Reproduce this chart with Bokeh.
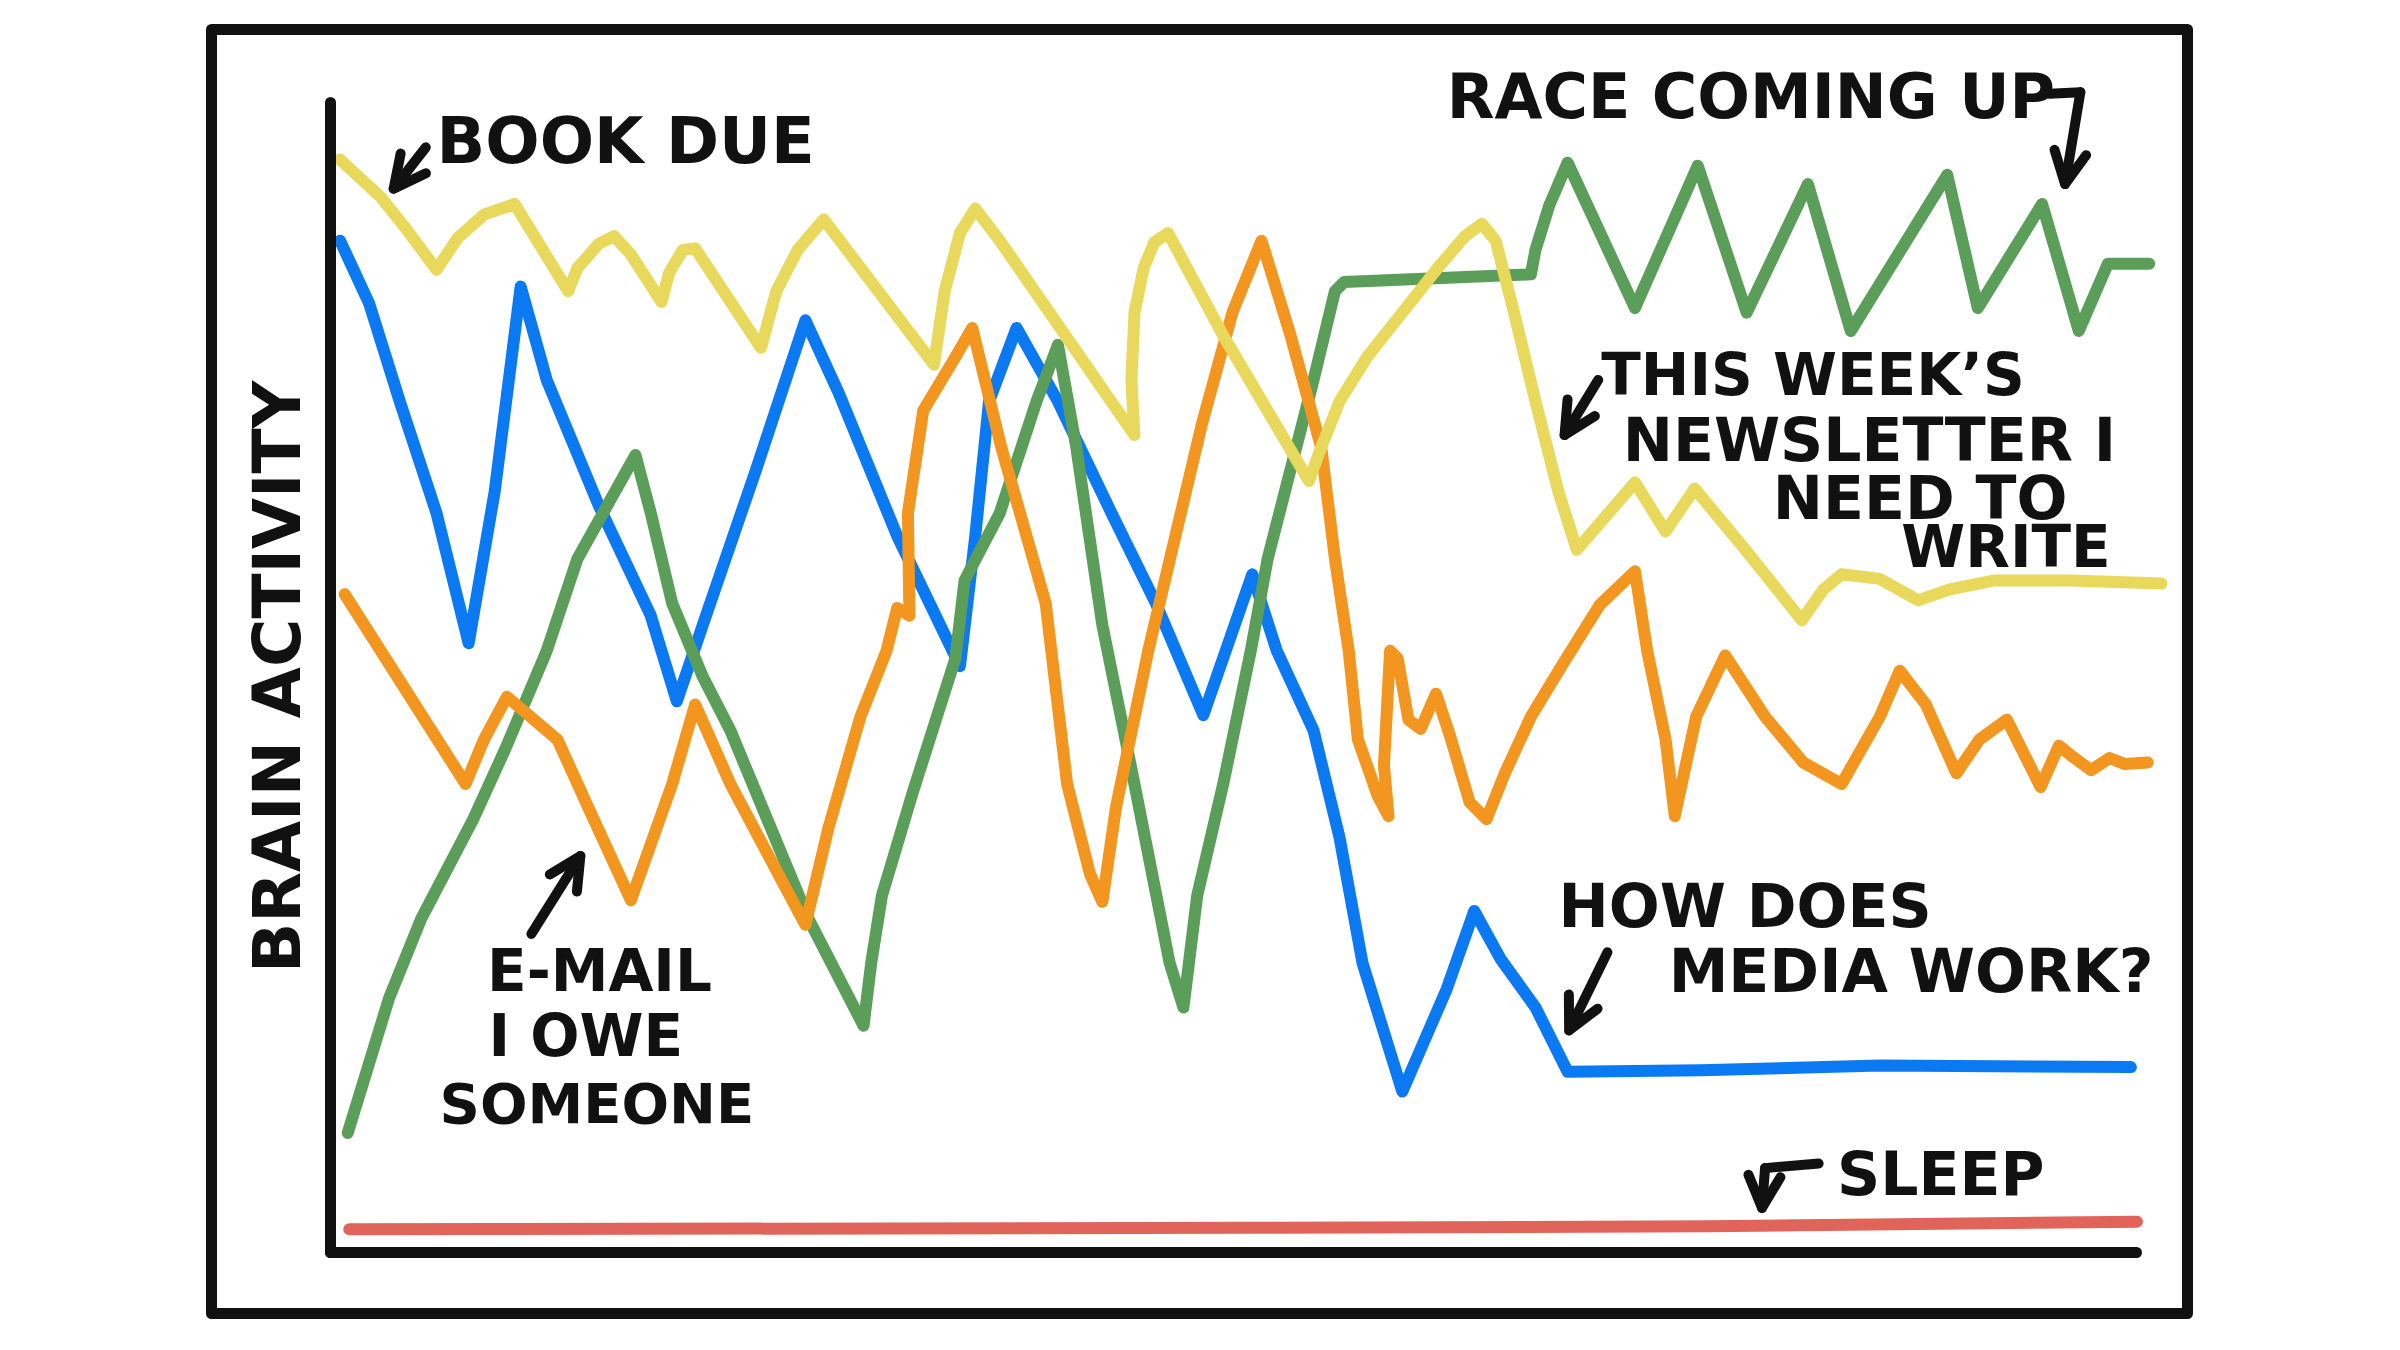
import math
from bokeh.plotting import figure
from bokeh.models import Range1d, LinearAxis, FixedTicker, Arrow, OpenHead, ColumnDataSource
from bokeh.core.properties import value
from bokeh.embed import file_html
from bokeh.resources import INLINE

# ---------------- data (time in arbitrary units, brain activity in arbitrary units) ----------------
# yellow: book due -> this week's newsletter
book_t = [0.6, 3.2, 4.9, 6.9, 8.3, 10.0, 12.0, 15.5, 16.1, 17.5, 18.5, 19.6, 21.6, 22.1, 23.0, 23.8,
          28.1, 29.1, 30.5, 32.2, 39.4, 40.1, 41.1, 42.1, 43.7, 52.5, 52.3, 52.5, 53.1, 53.8, 54.7,
          58.3, 63.9, 64.7, 65.9, 67.7, 70.0, 72.3, 74.1, 75.2, 76.1, 77.3, 78.7, 80.2, 81.4,
          85.2, 87.2, 89.1, 92.5, 96.1, 97.5, 98.7, 101.2, 103.7, 105.7, 108.7, 113.7, 119.6]
book_v = [71.4, 69.0, 66.9, 64.2, 66.3, 67.8, 68.5, 62.8, 64.3, 65.9, 66.4, 65.2, 62.1, 64.0, 65.5, 65.6,
          59.1, 62.8, 65.5, 67.5, 58.0, 62.8, 66.6, 68.2, 66.1, 53.4, 57.0, 61.4, 64.3, 66.0, 66.6,
          59.9, 50.4, 52.6, 55.6, 58.5, 61.4, 64.3, 66.4, 67.2, 66.1, 61.4, 55.6, 49.7, 45.9,
          50.3, 47.1, 49.9, 45.8, 41.3, 43.3, 44.3, 44.0, 42.6, 43.3, 43.9, 43.9, 43.7]

# blue: how does media work?
media_t = [0.6, 2.5, 4.5, 6.9, 9.0, 10.7, 12.4, 14.1, 17.5, 20.9, 22.6, 24.3, 27.8, 31.0, 33.2, 37.0,
           41.1, 42.1, 43.0, 44.8, 47.5, 51.0, 53.9, 57.0, 60.2, 61.8, 64.2, 65.9, 67.4, 70.0, 72.9,
           74.7, 76.4, 78.7, 80.8, 89.5, 101.2, 117.6]
media_v = [66.1, 62.0, 55.6, 48.3, 39.8, 49.7, 63.1, 57.0, 48.8, 41.6, 36.0, 41.0, 51.2, 60.9, 56.1, 46.8,
           38.3, 46.8, 55.6, 60.4, 55.6, 48.3, 42.4, 35.1, 44.3, 39.3, 34.1, 27.1, 18.9, 10.5, 17.2,
           22.3, 19.2, 16.0, 11.8, 11.9, 12.2, 12.1]

# green: race coming up
race_t = [1.1, 3.8, 5.9, 9.3, 11.4, 14.1, 16.1, 19.9, 20.9, 22.3, 24.3, 26.1, 31.2, 34.8, 35.3, 36.0,
          38.0, 40.8, 41.4, 43.7, 46.1, 47.5, 48.7, 50.4, 52.5, 54.8, 55.7, 56.6, 58.3, 60.1, 61.2,
          64.2, 65.6, 66.2, 78.4, 78.7, 79.6, 80.8, 85.2, 89.3, 92.5, 96.5, 99.3, 105.6, 107.6,
          111.8, 114.2, 116.1, 118.8]
race_v = [7.8, 16.6, 21.8, 28.3, 32.9, 39.3, 45.3, 52.1, 48.3, 42.4, 37.6, 34.1, 21.8, 14.8, 18.9, 23.3,
          30.0, 38.8, 43.9, 48.3, 55.6, 59.3, 52.6, 41.0, 30.6, 18.9, 16.0, 23.3, 30.6, 39.3, 45.3,
          57.0, 62.8, 63.4, 63.9, 65.5, 68.4, 71.2, 61.7, 71.0, 61.4, 69.8, 60.2, 70.4, 61.7,
          68.5, 60.2, 64.6, 64.6]

# orange: e-mail I owe someone
email_t = [0.9, 8.8, 10.0, 11.5, 14.8, 16.8, 19.6, 22.3, 23.8, 26.1, 29.5, 31.0, 32.5, 34.6, 36.3, 37.0,
           37.8, 37.7, 38.7, 40.8, 41.9, 43.8, 46.7, 48.1, 49.6, 50.4, 51.3, 53.4, 56.9, 58.9, 60.8,
           62.7, 64.7, 65.6, 66.5, 67.1, 68.4, 69.1, 68.8, 69.2, 69.7, 70.4, 71.2, 72.2, 73.1, 74.4,
           75.5, 76.7, 78.4, 80.4, 82.9, 85.2, 86.0, 87.2, 87.8, 89.2, 91.1, 93.7, 96.2, 98.7, 101.2,
           102.5, 104.2, 106.2, 107.7, 109.5, 111.7, 112.9, 113.9, 115.0, 116.2, 117.2, 118.7]
email_v = [43.0, 30.6, 33.5, 36.3, 33.5, 29.1, 23.0, 30.6, 35.8, 30.6, 24.2, 21.4, 27.7, 35.0, 39.3, 42.1,
           41.6, 48.3, 55.0, 58.5, 60.4, 52.6, 42.4, 30.6, 24.7, 22.9, 29.1, 39.3, 54.1, 61.4, 66.1,
           59.9, 52.6, 45.3, 39.3, 33.5, 29.8, 28.5, 31.8, 39.3, 38.8, 34.8, 34.2, 36.5, 33.8, 29.4,
           28.3, 31.3, 35.0, 38.3, 42.3, 44.5, 39.3, 33.5, 28.5, 35.0, 39.0, 35.0, 32.0, 30.6, 35.0,
           38.0, 35.8, 31.3, 33.5, 34.8, 30.4, 33.1, 32.3, 31.5, 32.3, 31.9, 32.0]

# red: sleep
sleep_t = [1.2, 60.0, 90.0, 118.0]
sleep_v = [1.5, 1.6, 1.7, 2.0]

# annotation texts
note_text = ["BOOK DUE", "RACE COMING UP", "THIS WEEK\u2019S", "NEWSLETTER I", "NEED TO", "WRITE",
             "HOW DOES", "MEDIA WORK?", "E-MAIL", "I OWE", "SOMEONE", "SLEEP"]
note_x = [6.9, 72.9, 83.0, 84.4, 94.2, 102.6, 80.2, 87.4, 10.2, 10.3, 7.1, 98.4]
note_y = [72.6, 75.5, 57.3, 53.1, 49.3, 46.1, 22.6, 18.4, 18.4, 14.1, 9.7, 5.1]
note_size = ["64px", "62px", "58px", "60px", "60px", "58px", "60px", "60px", "58px", "58px", "56px", "60px"]
y_label = "BRAIN ACTIVITY"

# ---------------- figure ----------------
p = figure(width=2384, height=1334,
           x_range=Range1d(-7.8, 121.3), y_range=Range1d(-4.0, 79.9),
           x_axis_type=None, y_axis_type=None,
           toolbar_location=None, output_backend="svg",
           min_border_left=211, min_border_right=197, min_border_top=29, min_border_bottom=21,
           outline_line_color="#111111", outline_line_width=11, outline_line_join="round",
           background_fill_color="white", border_fill_color="white")

axis_style = dict(ticker=FixedTicker(ticks=[], minor_ticks=[]),
                  axis_line_color="#111111", axis_line_width=11, axis_line_cap="round",
                  major_tick_line_color=None, minor_tick_line_color=None,
                  major_label_text_font_size="0px")
yaxis = LinearAxis(fixed_location=0, bounds=(0, 75.1), **axis_style)
p.add_layout(yaxis, "left")
xaxis = LinearAxis(fixed_location=0, bounds=(0, 118.0), **axis_style)
p.add_layout(xaxis, "below")

lw = 12
p.line(sleep_t, sleep_v, line_color="#e0645a", line_width=lw, line_join="round", line_cap="round")
p.line(media_t, media_v, line_color="#0b79f2", line_width=lw, line_join="round", line_cap="round")
p.line(race_t, race_v, line_color="#5a9e59", line_width=lw, line_join="round", line_cap="round")
p.line(email_t, email_v, line_color="#f2961f", line_width=lw, line_join="round", line_cap="round")
p.line(book_t, book_v, line_color="#e8d85c", line_width=lw, line_join="round", line_cap="round")

# texts
src = ColumnDataSource(dict(x=note_x, y=note_y, text=note_text, size=note_size))
p.text(x="x", y="y", text="text", source=src, text_font=value("DejaVu Sans"),
       text_font_style="bold", text_font_size="size", text_color="#111111",
       text_align="left", text_baseline="middle")
p.text(x=[-3.5], y=[37.6], text=[y_label], angle=math.pi / 2, text_font=value("DejaVu Sans"),
       text_font_style="bold", text_font_size="66px", text_color="#111111",
       text_align="center", text_baseline="middle")

# arrows
def arrow(x0, y0, x1, y1):
    p.add_layout(Arrow(end=OpenHead(size=32, line_width=10, line_color="#111111", line_cap="round",
                                    line_join="round"),
                       x_start=x0, y_start=y0, x_end=x1, y_end=y1,
                       line_width=10, line_color="#111111", line_cap="round"))

arrow(6.2, 72.2, 4.1, 69.5)        # book due
p.line([112.3, 114.3], [75.7, 75.8], line_color="#111111", line_width=10, line_cap="round")
arrow(114.3, 75.8, 113.3, 69.8)    # race
arrow(82.8, 57.0, 80.6, 53.4)      # newsletter
arrow(83.4, 19.6, 80.9, 14.5)      # media
arrow(13.1, 20.8, 16.3, 25.9)      # email
p.line([97.2, 93.7], [5.8, 5.5], line_color="#111111", line_width=10, line_cap="round")
arrow(93.7, 5.5, 93.5, 2.9)        # sleep

open("out.html", "w").write(file_html(p, INLINE))
